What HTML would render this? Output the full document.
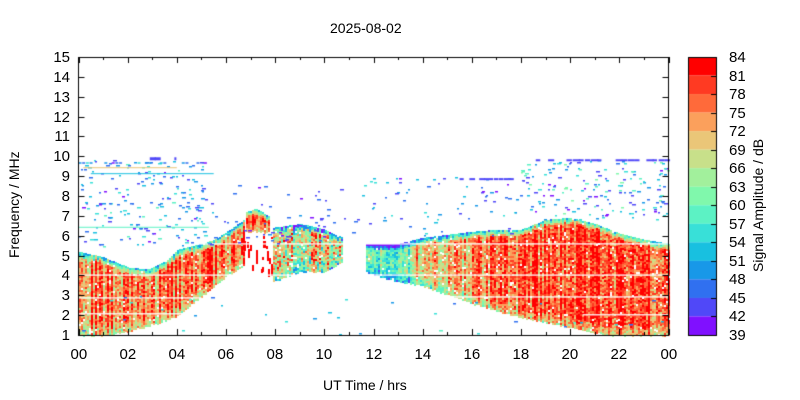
<!DOCTYPE html>
<html><head><meta charset="utf-8"><style>
body{margin:0;background:#fff;width:800px;height:400px;overflow:hidden;font-family:"Liberation Sans",sans-serif}
.t{position:absolute;font-size:14px;color:#000;white-space:nowrap}
</style></head><body>
<div style="position:relative;width:800px;height:400px">
<canvas id="c" width="800" height="400" style="position:absolute;left:0;top:0"></canvas>
<div class="t" style="left:330px;top:20px">2025-08-02</div>
<div class="t" style="left:323px;top:377px">UT Time / hrs</div>
<div class="t" style="left:6px;top:258px;transform:rotate(-90deg);transform-origin:0 0">Frequency / MHz</div>
<div class="t" style="left:750px;top:272px;transform:rotate(-90deg);transform-origin:0 0">Signal Amplitude / dB</div>
<div id="lab"></div>
</div>
<script>
const cv=document.getElementById('c'),g=cv.getContext('2d');
const X0=78.5,X1=668.5,Y0=57,Y1=335;
const xh=h=>X0+h*(X1-X0)/24, yf=f=>Y1-(f-1)*(Y1-Y0)/14;
const cols=['#ff0000','#ff3a22','#ff6a3a','#fba05c','#eac678','#c8e08a','#a2f09c','#80f8ac','#5cf2c4','#38e0d8','#18c0e0','#1898e8','#3070f0','#5048f8','#8010ff'];
let s=12345;const R=()=>{s=(s*1103515245+12345)%2147483648;return s/2147483648};
const col=v=>cols[Math.max(0,Math.min(14,Math.round(v)))];
function interp(pts,h){for(let i=0;i<pts.length-1;i++){if(h>=pts[i][0]&&h<=pts[i+1][0]){const t=(h-pts[i][0])/(pts[i+1][0]-pts[i][0]);return pts[i][1]+t*(pts[i+1][1]-pts[i][1]);}}return null;}
function region(h0,h1,up,lo,base,edge,cn,pn){
 for(let x=xh(h0);x<xh(h1);x+=2){const h=(x-X0)/(X1-X0)*24;const u=interp(up,h),l=interp(lo,h);if(u==null)continue;
  const cb=base(h)+(R()-0.5)*cn;
  const yl=yf(l),yu=yf(u);
  for(let y=yu;y<yl;y+=2){const d=(y-yu);let v=cb+(R()-0.5)*pn;if(d<edge)v+=(edge-d)/edge*7;
   const bd=yl-y; if(bd<12)v+=(12-bd)/12*3;
   if(R()<0.03)continue;g.fillStyle=col(v);g.fillRect(Math.round(x),Math.round(y),2,2);}}
}
region(0,6.7,[[0,5.2],[1,4.9],[2,4.4],[2.8,4.3],[3.5,4.7],[4,5.3],[5,5.6],[5.5,5.8],[6,6.2],[6.7,6.8]],
 [[0,1],[1,1],[2,1.2],[3,1.5],[4,2],[5,3],[5.5,3.5],[6,4],[6.7,4.5]],h=>2,7,5,4);
region(6.8,7.7,[[6.8,7.2],[7.2,7.35],[7.7,7.0]],[[6.8,6.2],[7.7,6.2]],h=>1.5,6,4,3);
region(7.9,10.7,[[7.9,6.4],[9,6.6],[10,6.3],[10.7,5.9]],[[7.9,3.7],[9,4.2],[10,4.2],[10.7,4.7]],h=>5,6,5,7);
region(11.7,24,[[11.7,5.6],[13,5.6],[14,5.9],[16,6.2],[17,6.3],[18,6.3],[19,6.8],[20,6.9],[21,6.6],[22,6.1],[23,5.8],[24,5.6]],
 [[11.7,4.2],[13,3.7],[14,3.5],[16,2.6],[18,1.9],[20,1.4],[21.5,1],[24,1]],h=>h<13.5?7.5:h<16?3.5:h<18?2.2:1.2,6,4,4);
// sparse red bits under region B
g.fillStyle='#ff0000';for(let i=0;i<25;i++){g.fillRect(Math.round(xh(6.6+R()*1.3)),Math.round(yf(4.2+R()*1.9)),2,2+Math.round(R()*8));}
// white lines
g.fillStyle='#fff';
[[0,24,5.62],[0,24,4.05],[0,5,2.1],[0,5,2.9],[12,24,2.95],[20.5,24,2.05]].forEach(a=>g.fillRect(xh(a[0]),yf(a[2]),xh(a[1])-xh(a[0]),1.3));
g.clearRect(xh(10.8),Y0,xh(11.7)-xh(10.8),Y1-Y0);
// speckles
function spk(h0,h1,f0,f1,n,cmin,cmax){for(let i=0;i<n;i++){const x=xh(h0+R()*(h1-h0)),y=yf(f0+R()*(f1-f0));g.fillStyle=col(cmin+R()*(cmax-cmin));g.fillRect(Math.round(x),Math.round(y),2+Math.round(R()*2),1.5);}}
spk(0,5.5,5.5,9.8,200,8,14);spk(5.5,11.5,5.5,8.6,60,11,14);spk(11.5,18,6,9,70,9,14);spk(18,24,6.8,9.8,170,7,14);
spk(0,24,1,3,35,8,13);
g.fillStyle=col(13);
for(let h=18.1;h<24;h+=0.25){if(R()<0.7)g.fillRect(xh(h),yf(9.85),4+R()*4,2);}
for(let h=15.5;h<17.5;h+=0.2){if(R()<0.7)g.fillRect(xh(h),yf(8.9),4+R()*3,2);}
g.fillRect(xh(2.9),yf(9.95),6,3);g.fillRect(xh(3.1),yf(9.95),6,3);g.fillRect(xh(3.9),yf(9.95),2,3);
for(let h=0;h<5.5;h+=0.15){if(R()<0.5){g.fillStyle=col(9+R()*5);g.fillRect(xh(h),yf(9.7),3,1.5);}}
g.fillStyle=col(4);g.fillRect(xh(0.2),yf(9.45),xh(4)-xh(0.2),1);g.fillStyle=col(10);g.fillRect(xh(0.5),yf(9.15),xh(5.5)-xh(0.5),1);
g.fillStyle=col(8);g.fillRect(xh(0),yf(6.45),xh(5.3)-X0,1);
// axes
g.strokeStyle='#000';g.lineWidth=1;g.strokeRect(X0,Y0+0.5,X1-X0,Y1-Y0);
const lab=document.getElementById('lab');let html='';
for(let f=1;f<=15;f++){const y=Math.round(yf(f))+0.5;g.beginPath();g.moveTo(X0,y);g.lineTo(X0+6,y);g.moveTo(X1,y);g.lineTo(X1-6,y);g.stroke();
 html+=`<div class="t" style="right:${800-70}px;top:${y-9}px;font-size:15px">${f}</div>`;}
for(let h=0;h<=24;h++){const x=Math.round(xh(h))+0.5,L=h%2?3:6;g.beginPath();g.moveTo(x,Y1);g.lineTo(x,Y1-L);g.moveTo(x,Y0);g.lineTo(x,Y0+L);g.stroke();
 if(h%2==0)html+=`<div class="t" style="left:${x-9}px;top:346px;font-size:15px">${String(h%24).padStart(2,'0')}</div>`;}
for(let i=0;i<15;i++){g.fillStyle=cols[i];g.fillRect(688,57+i*18.53,28,18.6);}
g.strokeRect(688.5,57.5,28,278);
for(let i=0;i<16;i++){const y=Math.round(57+i*18.53)+0.5;g.beginPath();g.moveTo(716,y);g.lineTo(711,y);g.stroke();
 html+=`<div class="t" style="left:729px;top:${y-9}px;font-size:15px">${84-3*i}</div>`;}
lab.innerHTML=html;
</script>
</body></html>
